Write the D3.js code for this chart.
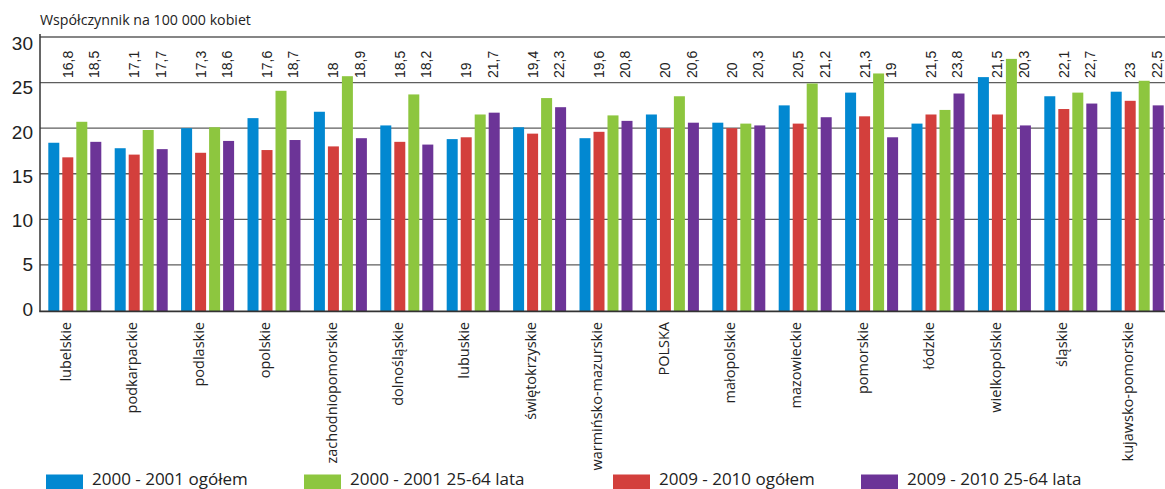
<!DOCTYPE html>
<html lang="pl">
<head>
<meta charset="utf-8">
<script src="https://cdn.jsdelivr.net/npm/d3@7"></script>
<style>
  html, body { margin: 0; padding: 0; background: #fff; }
  svg { display: block; }
</style>
</head>
<body>
<svg id="chart" width="1165" height="489"></svg>
<script>
// Województwa (kolejność wg współczynnika 2009-2010 ogółem)
const categories = ["lubelskie", "podkarpackie", "podlaskie", "opolskie", "zachodniopomorskie",
  "dolnośląskie", "lubuskie", "świętokrzyskie", "warmińsko-mazurskie", "POLSKA", "małopolskie",
  "mazowieckie", "pomorskie", "łódzkie", "wielkopolskie", "śląskie", "kujawsko-pomorskie"];

// Współczynnik na 100 000 kobiet
const ogolem2000 = [18.4, 17.8, 20.0, 21.1, 21.8, 20.3, 18.8, 20.1, 18.9, 21.5, 20.6, 22.5, 23.9, 20.5, 25.6, 23.5, 24.0];
const lata2000 = [20.7, 19.8, 20.1, 24.1, 25.7, 23.7, 21.5, 23.3, 21.4, 23.5, 20.5, 24.9, 26.0, 22.0, 27.6, 23.9, 25.2];
const ogolem2009 = [16.8, 17.1, 17.3, 17.6, 18, 18.5, 19, 19.4, 19.6, 20, 20, 20.5, 21.3, 21.5, 21.5, 22.1, 23];
const lata2009 = [18.5, 17.7, 18.6, 18.7, 18.9, 18.2, 21.7, 22.3, 20.8, 20.6, 20.3, 21.2, 19, 23.8, 20.3, 22.7, 22.5];

const seriesNames = ["2000 - 2001 ogółem", "2009 - 2010 ogółem", "2000 - 2001 25-64 lata", "2009 - 2010 25-64 lata"];
const legendOrder = ["2000 - 2001 ogółem", "2000 - 2001 25-64 lata", "2009 - 2010 ogółem", "2009 - 2010 25-64 lata"];
const yTicks = [0, 5, 10, 15, 20, 25, 30];
const yTitle = "Współczynnik na 100 000 kobiet";

const seriesValues = {
  "2000 - 2001 ogółem": ogolem2000,
  "2009 - 2010 ogółem": ogolem2009,
  "2000 - 2001 25-64 lata": lata2000,
  "2009 - 2010 25-64 lata": lata2009
};
const colors = {
  "2000 - 2001 ogółem": "#0288d1",
  "2009 - 2010 ogółem": "#d33f3c",
  "2000 - 2001 25-64 lata": "#8dc63f",
  "2009 - 2010 25-64 lata": "#6c3497"
};
// Serie z podpisanymi wartościami
const labelled = ["2009 - 2010 ogółem", "2009 - 2010 25-64 lata"];

const svg = d3.select("#chart");
const plotLeft = 40, plotRight = 1165, plotTop = 37, plotBottom = 310.5;

const x0 = d3.scaleBand().domain(categories).range([plotLeft, plotLeft + 66.4 * categories.length]).padding(0);
const x1 = d3.scaleBand().domain(seriesNames).range([8.3, 61.3]).paddingInner(3 / 14).paddingOuter(0);
const y = d3.scaleLinear().domain([0, 30]).range([plotBottom, plotTop]);
const yLab = d3.scaleLinear().domain([0, 30]).range([plotBottom - 1.5, plotTop + 6.5]);

// Linie siatki
svg.append("g")
  .selectAll("line")
  .data(yTicks.filter(t => t > 0))
  .join("line")
  .attr("x1", plotLeft).attr("x2", plotRight)
  .attr("y1", d => y(d)).attr("y2", d => y(d))
  .attr("stroke", "#5e5e5e").attr("stroke-width", 1.3);

// Etykiety osi Y
svg.append("g")
  .selectAll("text")
  .data(yTicks)
  .join("text")
  .attr("x", 33).attr("y", d => yLab(d))
  .attr("dy", "0.35em")
  .attr("text-anchor", "end")
  .attr("font-family", "'Liberation Sans Narrow', 'Liberation Sans', Arial, sans-serif")
  .attr("font-size", 19)
  .attr("fill", "#222")
  .text(d => d);

// Słupki
const groups = svg.append("g")
  .selectAll("g")
  .data(categories)
  .join("g")
  .attr("transform", d => `translate(${x0(d)},0)`);

groups.selectAll("rect")
  .data((c, i) => seriesNames.map(s => ({ s, v: seriesValues[s][i] })))
  .join("rect")
  .attr("x", d => x1(d.s))
  .attr("width", x1.bandwidth())
  .attr("y", d => y(d.v))
  .attr("height", d => y(0) - y(d.v) + 0.5)
  .attr("fill", d => colors[d.s]);

// Wartości 2009-2010 nad wykresem
groups.selectAll("text.val")
  .data((c, i) => labelled.map(s => ({ s, v: seriesValues[s][i] })))
  .join("text")
  .attr("class", "val")
  .attr("transform", d => `translate(${x1(d.s) + x1.bandwidth() / 2 - (d.s === labelled[1] ? 1.5 : 0)},78) rotate(-90)`)
  .attr("dy", "0.35em")
  .attr("text-anchor", "start")
  .attr("font-family", "'Liberation Sans', Arial, sans-serif")
  .attr("font-size", 14)
  .attr("fill", "#222")
  .text(d => String(d.v).replace(".", ","));

// Osie
svg.append("line")
  .attr("x1", plotLeft).attr("x2", plotLeft).attr("y1", 34).attr("y2", plotBottom + 1)
  .attr("stroke", "#333").attr("stroke-width", 1.5);
svg.append("line")
  .attr("x1", plotLeft - 0.75).attr("x2", plotRight).attr("y1", plotBottom + 0.8).attr("y2", plotBottom + 0.8)
  .attr("stroke", "#333").attr("stroke-width", 1.8);

// Nazwy województw
svg.append("g")
  .selectAll("text")
  .data(categories)
  .join("text")
  .attr("transform", d => `translate(${x0(d) + 26},322) rotate(-90)`)
  .attr("dy", "0.35em")
  .attr("text-anchor", "end")
  .attr("font-family", "'Open Sans', 'Noto Sans', sans-serif")
  .attr("font-size", 14.5)
  .attr("fill", "#222")
  .text(d => d);

// Tytuł osi Y
svg.append("text")
  .attr("x", 40).attr("y", 25)
  .attr("font-family", "'Open Sans', 'Noto Sans', sans-serif")
  .attr("font-size", 14.2)
  .attr("fill", "#222")
  .text(yTitle);

// Legenda
const legendX = [46, 304, 613, 861];
const legend = svg.append("g")
  .selectAll("g")
  .data(legendOrder)
  .join("g")
  .attr("transform", (d, i) => `translate(${legendX[i]},474.5)`);
legend.append("rect")
  .attr("width", 37).attr("height", 14.5)
  .attr("fill", d => colors[d]);
legend.append("text")
  .attr("x", 46).attr("y", 10.5)
  .attr("font-family", "'Open Sans', 'Noto Sans', sans-serif")
  .attr("font-size", 17)
  .attr("fill", "#222")
  .text(d => d);
</script>
</body>
</html>
